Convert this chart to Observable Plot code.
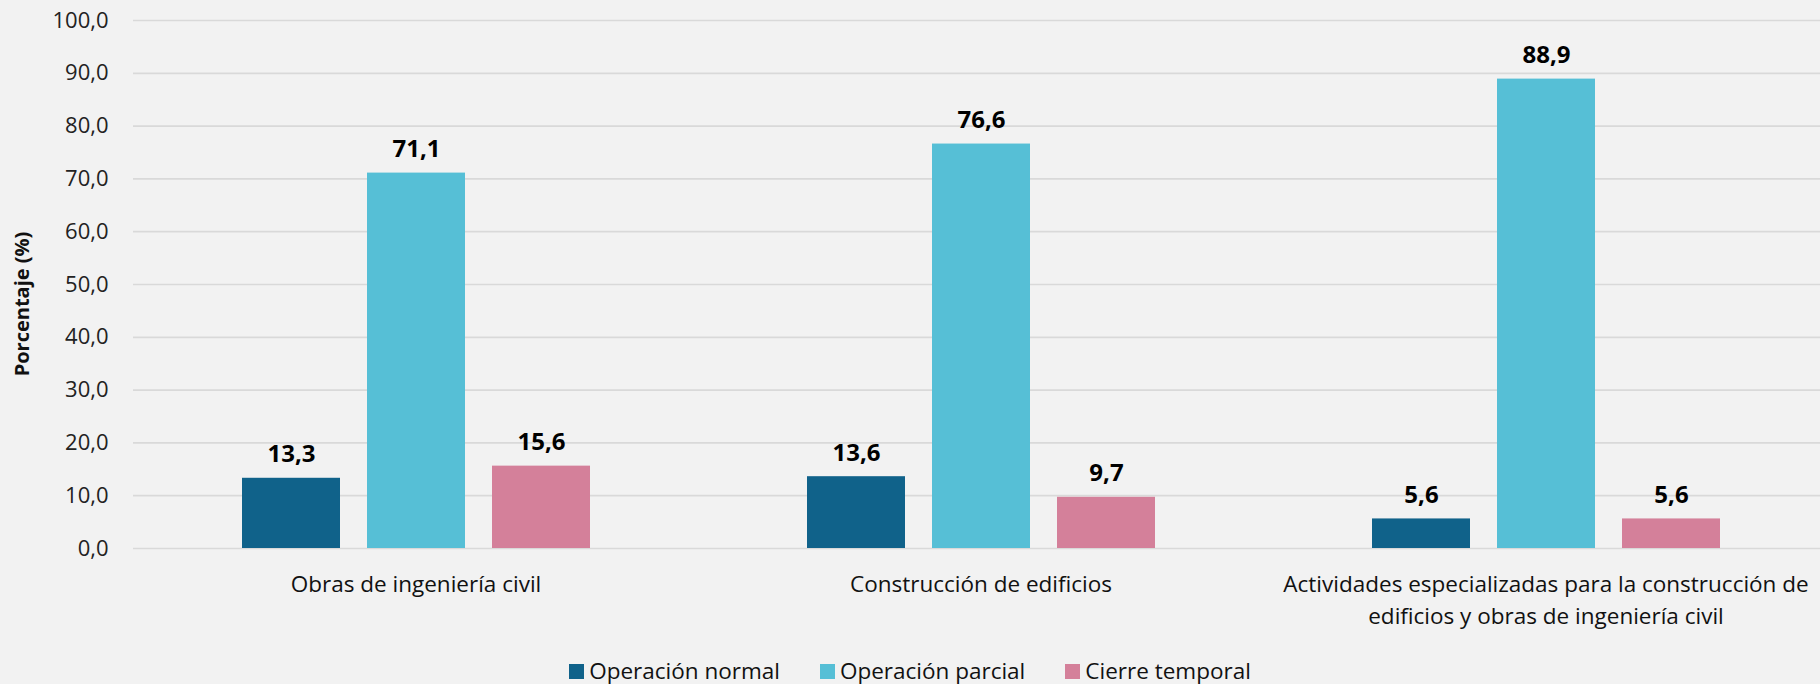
<!DOCTYPE html>
<html>
<head>
<meta charset="utf-8">
<script src="https://cdn.jsdelivr.net/npm/d3@7"></script>
<script src="https://cdn.jsdelivr.net/npm/@observablehq/plot@0.6"></script>
<style>
  html, body { margin: 0; padding: 0; background: #f2f2f2; }
  body { width: 1820px; height: 684px; overflow: hidden; font-family: "Open Sans", sans-serif; }
  #legend { height: 44px; display: flex; justify-content: center; align-items: flex-start; padding-top: 20px; box-sizing: border-box; font-size: 22.5px; color: #111; }
  .item { display: flex; align-items: center; margin: 0 20px; line-height: 22px; }
  .sw { width: 15px; height: 15px; margin-right: 5px; display: inline-block; }
</style>
</head>
<body>
<div id="chart"></div>
<div id="legend"></div>
<script>
const categories = [
  "Obras de ingeniería civil",
  "Construcción de edificios",
  "Actividades especializadas para la construcción de edificios y obras de ingeniería civil"
];
const categoryLabels = [
  "Obras de ingeniería civil",
  "Construcción de edificios",
  "Actividades especializadas para la construcción de\nedificios y obras de ingeniería civil"
];
const series = ["Operación normal", "Operación parcial", "Cierre temporal"];
const operacionNormal = [13.3, 13.6, 5.6];
const operacionParcial = [71.1, 76.6, 88.9];
const cierreTemporal = [15.6, 9.7, 5.6];
const colors = ["#10628a", "#56bfd6", "#d4809a"];
const yTicks = [0, 10, 20, 30, 40, 50, 60, 70, 80, 90, 100];

const values = [operacionNormal, operacionParcial, cierreTemporal];
const data = [];
categories.forEach((c, i) => series.forEach((s, j) => data.push({category: c, serie: s, value: values[j][i]})));

const fmt = d => d.toFixed(1).replace(".", ",");
const labelOf = new Map(categories.map((c, i) => [c, categoryLabels[i]]));

const W = 1820, H = 640;
const chart = Plot.plot({
  width: W,
  height: H,
  marginTop: 20,
  marginBottom: 92,
  marginLeft: 132,
  marginRight: 0,
  style: {background: "#f2f2f2", fontFamily: "Open Sans, sans-serif", overflow: "visible"},
  fx: {domain: categories, range: [132, 1829], paddingInner: 0, paddingOuter: 0},
  x: {domain: series, paddingInner: 0.217, paddingOuter: 0.862, axis: null},
  y: {domain: [0, 100], range: [548, 20]},
  color: {domain: series, range: colors},
  marks: [
    Plot.ruleY(yTicks, {stroke: "#d9d9d9", strokeWidth: 1.7}),
    Plot.barY(data, {fx: "category", x: "serie", y: "value", fill: "serie"}),
    Plot.text(data, {fx: "category", x: "serie", y: "value", text: d => fmt(d.value), dy: -16, lineAnchor: "bottom", fontSize: 24, fontWeight: "bold", fill: "#000"}),
    Plot.axisY({ticks: yTicks, tickFormat: fmt, tickSize: 0, tickPadding: 25, fontSize: 22, color: "#222", label: null}),
    Plot.axisFx({anchor: "bottom", tickSize: 0, tickPadding: 21, fontSize: 22.5, lineHeight: 1.42, tickFormat: d => labelOf.get(d), label: null, color: "#111"})
  ]
});
document.getElementById("chart").appendChild(chart);

d3.select(chart).append("text")
  .attr("transform", "translate(21,304) rotate(-90)")
  .attr("text-anchor", "middle")
  .attr("dominant-baseline", "central")
  .attr("font-size", 20)
  .attr("font-weight", "bold")
  .attr("fill", "#111")
  .text("Porcentaje (%)");

const legend = d3.select("#legend");
series.forEach((s, i) => {
  const it = legend.append("div").attr("class", "item");
  it.append("span").attr("class", "sw").style("background", colors[i]);
  it.append("span").text(s);
});
</script>
</body>
</html>
